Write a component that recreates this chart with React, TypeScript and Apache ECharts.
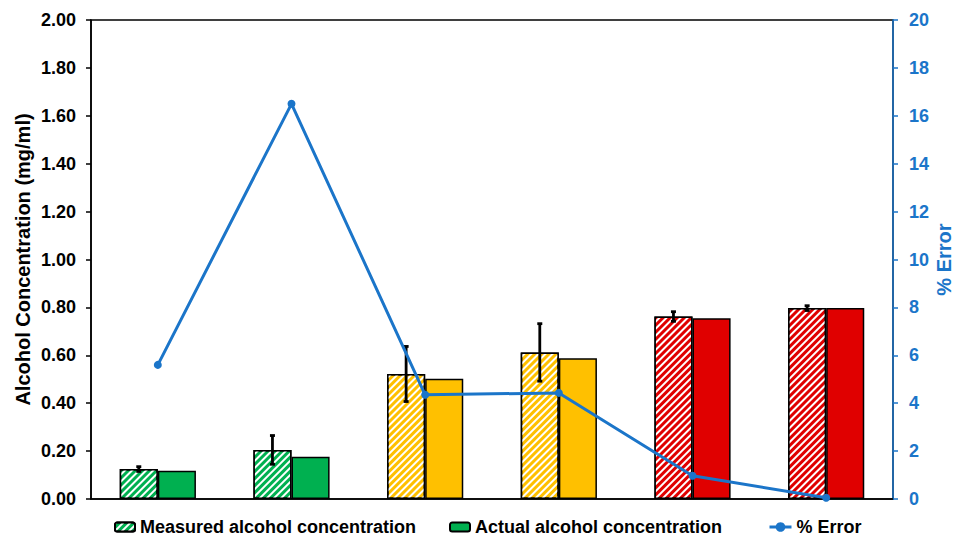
import React, { useEffect, useRef } from "react";
import * as echarts from "echarts";

const categories = ["1", "2", "3", "4", "5", "6"];
const measured = [0.125, 0.205, 0.522, 0.612, 0.762, 0.797];
const actual = [0.118, 0.176, 0.502, 0.588, 0.755, 0.797];
const measuredErr = [0.01, 0.06, 0.115, 0.12, 0.02, 0.01];
const pctError = [5.6, 16.5, 4.35, 4.43, 0.97, 0.05];
const groupColors = ["#00B050", "#00B050", "#FFC000", "#FFC000", "#E00000", "#E00000"];

const FONT = "'Liberation Sans', Arial, sans-serif";
const BLUE = "#1B75C9";

export default function App() {
  const ref = useRef<HTMLDivElement>(null);
  useEffect(() => {
    const chart = echarts.init(ref.current!, null, { renderer: "svg" });
    const decal = {
      symbol: "rect",
      symbolSize: 1,
      dashArrayX: [1, 0],
      dashArrayY: [2, 2.2],
      rotation: -Math.PI / 4,
      color: "#ffffff",
    };
    const barFrac = 0.285;
    const legendText = { fontSize: 18, fontWeight: "bold", color: "#000", fontFamily: FONT };
    chart.setOption({
      animation: false,
      textStyle: { fontFamily: FONT },
      grid: {
        left: 91,
        right: 61,
        top: 20,
        bottom: 37,
        show: true,
        borderColor: "#000",
        borderWidth: 1.5,
        backgroundColor: "transparent",
        containLabel: false,
        outerBoundsMode: "none",
      },
      legend: [
        {
          data: ["Measured alcohol concentration"],
          left: 114,
          top: 518,
          padding: 0,
          itemWidth: 20,
          itemHeight: 9,
          textStyle: legendText,
        },
        {
          data: ["Actual alcohol concentration"],
          left: 449,
          top: 518,
          padding: 0,
          itemWidth: 20,
          itemHeight: 9,
          textStyle: legendText,
        },
        {
          data: ["% Error"],
          left: 768,
          top: 518,
          padding: 0,
          itemWidth: 22,
          itemHeight: 12,
          lineStyle: { width: 3 },
          textStyle: legendText,
        },
      ],
      xAxis: {
        type: "category",
        data: categories,
        axisLabel: { show: false },
        axisTick: { show: false },
        axisLine: { lineStyle: { color: "#000", width: 1.5 } },
      },
      yAxis: [
        {
          type: "value",
          min: 0,
          max: 2,
          interval: 0.2,
          name: "Alcohol Concentration (mg/ml)",
          nameLocation: "middle",
          nameGap: 58,
          nameMoveOverlap: false,
          nameTextStyle: { fontSize: 20, fontWeight: "bold", color: "#000", fontFamily: FONT },
          axisLine: { show: true, lineStyle: { color: "#000", width: 1.5 } },
          axisTick: { show: true, length: 5, lineStyle: { color: "#000", width: 1.5 } },
          axisLabel: {
            formatter: (v: number) => v.toFixed(2),
            fontSize: 18,
            fontWeight: "bold",
            color: "#000",
            margin: 15,
            fontFamily: FONT,
          },
          splitLine: { show: false },
        },
        {
          type: "value",
          min: 0,
          max: 20,
          interval: 2,
          name: "% Error",
          nameLocation: "middle",
          nameGap: 41,
          nameMoveOverlap: false,
          nameTextStyle: { fontSize: 20, fontWeight: "bold", color: BLUE, fontFamily: FONT },
          axisLine: { show: true, lineStyle: { color: BLUE, width: 1.5 } },
          axisTick: { show: true, length: 5, lineStyle: { color: BLUE, width: 1.5 } },
          axisLabel: { fontSize: 18, fontWeight: "bold", color: BLUE, margin: 16, fontFamily: FONT },
          splitLine: { show: false },
        },
      ],
      series: [
        {
          name: "Measured alcohol concentration",
          type: "bar",
          barGap: "0%",
          barCategoryGap: "43%",
          itemStyle: { color: "#00B050", borderColor: "#000", borderWidth: 1.5, decal },
          data: measured.map((v, i) => ({ value: v, itemStyle: { color: groupColors[i] } })),
          z: 2,
        },
        {
          name: "Actual alcohol concentration",
          type: "bar",
          itemStyle: { color: "#00B050", borderColor: "#000", borderWidth: 1.5 },
          data: actual.map((v, i) => ({ value: v, itemStyle: { color: groupColors[i] } })),
          z: 2,
        },
        {
          name: "errorbars",
          type: "custom",
          z: 4,
          data: measured.map((v, i) => [i, v - measuredErr[i], v + measuredErr[i]]),
          renderItem: (params: any, api: any) => {
            const idx = api.value(0);
            const lo = api.coord([idx, api.value(1)]);
            const hi = api.coord([idx, api.value(2)]);
            const band = api.size([1, 0])[0];
            const x = lo[0] - (band * barFrac) / 2;
            const cap = 2.5;
            const style = { stroke: "#000", lineWidth: 2.8, fill: null };
            return {
              type: "group",
              children: [
                { type: "line", shape: { x1: x, y1: lo[1], x2: x, y2: hi[1] }, style },
                { type: "line", shape: { x1: x - cap, y1: lo[1], x2: x + cap, y2: lo[1] }, style },
                { type: "line", shape: { x1: x - cap, y1: hi[1], x2: x + cap, y2: hi[1] }, style },
              ],
            };
          },
        },
        {
          name: "% Error",
          type: "line",
          yAxisIndex: 1,
          data: pctError,
          symbol: "circle",
          symbolSize: 8,
          z: 5,
          lineStyle: { color: BLUE, width: 3 },
          itemStyle: { color: BLUE },
        },
      ],
    });
    return () => chart.dispose();
  }, []);
  return <div ref={ref} style={{ width: 954, height: 536, position: "absolute", left: 0, top: 0 }} />;
}
